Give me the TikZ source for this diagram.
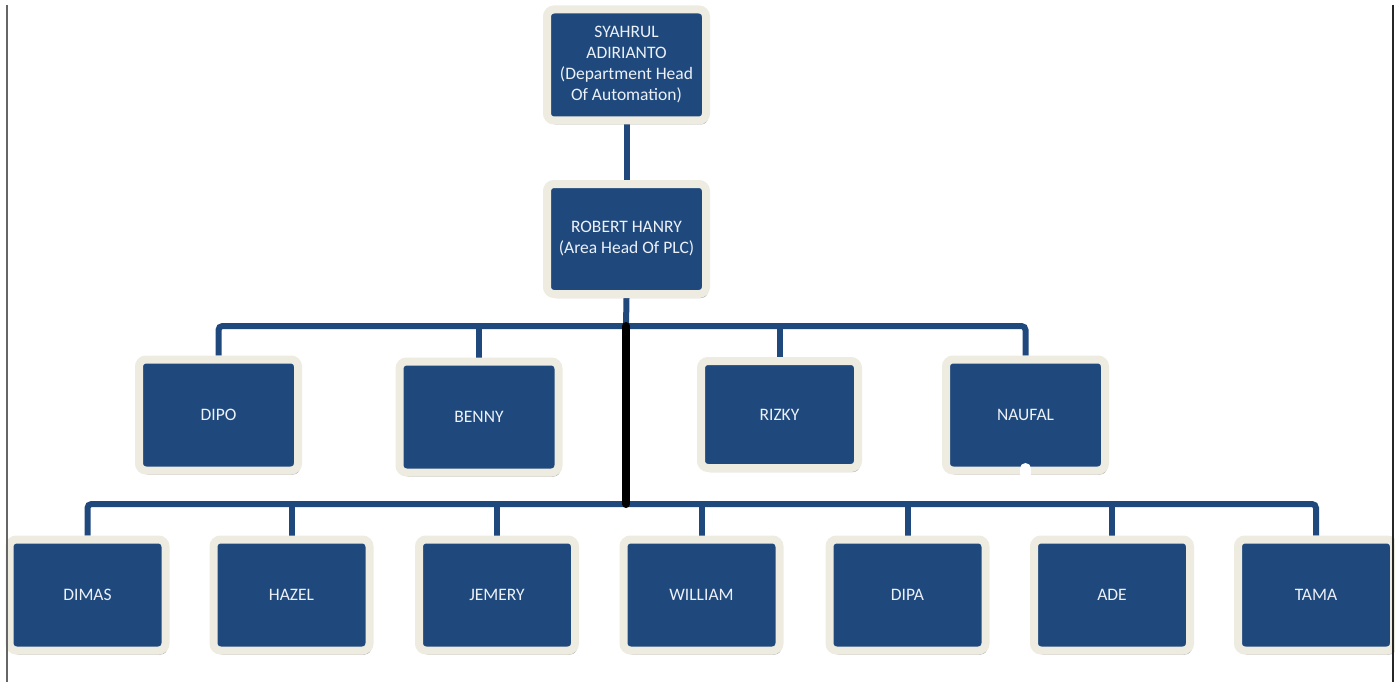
\documentclass[tikz,border=0pt]{standalone}
\usepackage{fontspec}
\setmainfont{Carlito}
\usetikzlibrary{shadows,backgrounds}
\definecolor{boxblue}{RGB}{31,73,125}
\definecolor{cream}{RGB}{238,236,225}
\definecolor{txt}{RGB}{236,241,248}
\tikzset{
  orgbox/.style={rectangle, rounded corners=7pt, fill=boxblue, draw=cream, line width=8pt,
    minimum width=159pt, minimum height=111pt, inner sep=2pt, align=center,
    text=txt, font=\fontsize{17.5}{21}\selectfont,
    drop shadow={shadow xshift=2pt, shadow yshift=-4pt, opacity=0.45, fill=black!75}},
  smallbox/.style={orgbox, minimum width=156pt},
  conn/.style={draw=boxblue, line width=6pt, rounded corners=4pt},
  thickblack/.style={draw=black, line width=8pt, line cap=round}
}
\begin{document}
\begin{tikzpicture}[x=1pt,y=-1pt]
\useasboundingbox (0,0) rectangle (1395,682);
\node[orgbox] (syahrul) at (626.5,65) {SYAHRUL\\ADIRIANTO\\(Department Head\\Of Automation)};
\node[orgbox, minimum height=110pt] (robert) at (626.5,239) {ROBERT HANRY\\(Area Head Of PLC)};
\node[orgbox] (dipo) at (218.5,415) {DIPO};
\node[orgbox] (benny) at (479,417) {BENNY};
\node[orgbox, minimum width=157pt, minimum height=107pt] (rizky) at (779.5,414.5) {RIZKY};
\node[orgbox] (naufal) at (1025.5,415) {NAUFAL};
\node[smallbox] (dimas) at (87.5,595) {DIMAS};
\node[smallbox] (hazel) at (291.5,595) {HAZEL};
\node[smallbox] (jemery) at (497,595) {JEMERY};
\node[smallbox] (william) at (701.5,595) {WILLIAM};
\node[smallbox] (dipa) at (907.5,595) {DIPA};
\node[smallbox] (ade) at (1112,595) {ADE};
\node[smallbox] (tama) at (1316,595) {TAMA};
\coordinate (bar1) at (626,326);
\coordinate (bar2) at (626,504);
\begin{pgfonlayer}{background}
\fill[white] (0,0) rectangle (1395,682);
\draw[conn] (syahrul.south) -- (robert.north);
\draw[conn] (robert.south) -- (bar1);
\draw[conn] (dipo.north) -- (dipo.north |- bar1) -- (naufal.north |- bar1) -- (naufal.north);
\draw[conn] (benny.north) -- (benny.north |- bar1);
\draw[conn] (rizky.north) -- (rizky.north |- bar1);
\draw[conn] (dimas.north) -- (dimas.north |- bar2) -- (tama.north |- bar2) -- (tama.north);
\draw[conn] (hazel.north) -- (hazel.north |- bar2);
\draw[conn] (jemery.north) -- (jemery.north |- bar2);
\draw[conn] (william.north) -- (william.north |- bar2);
\draw[conn] (dipa.north) -- (dipa.north |- bar2);
\draw[conn] (ade.north) -- (ade.north |- bar2);
\end{pgfonlayer}
\draw[thickblack] (bar1) -- (bar2);
\draw[white, line width=11pt, line cap=round] ([yshift=6pt]naufal.south) -- ++(0,17);
\draw[black!60, line width=1.5pt] (7,5) -- (7,682);
\draw[black!85, line width=1.5pt] (1393,5) -- (1393,682);
\end{tikzpicture}
\end{document}
